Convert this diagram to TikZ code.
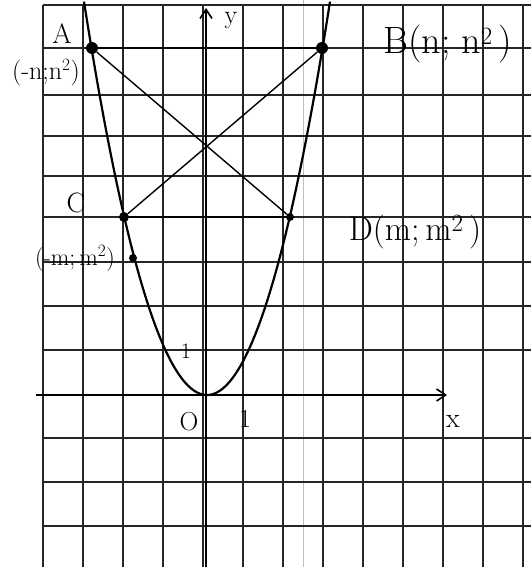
\documentclass[tikz,border=0pt]{standalone}
\usepackage{fontspec}
\usetikzlibrary{arrows.meta}
\begin{document}
\begin{tikzpicture}[x=1pt,y=-1pt,
  gridline/.style={line width=1.1pt, black!85},
  axisline/.style={line width=2.2pt, -{Straight Barb[length=9pt,width=12pt,line width=1.6pt]}},
  curveline/.style={line width=2.2pt},
  chord/.style={line width=1.4pt},
  bigdot/.style={circle, fill=black, inner sep=0pt, minimum size=#1},
  lab/.style={inner sep=0pt, font=\fontsize{#1}{#1}\selectfont}]
\useasboundingbox (0,0) rectangle (531,567);
\fill[white] (0,0) rectangle (531,567);
% paper fold
\draw[black!25, line width=1pt] (303,0) -- (303,567);
% grid
\foreach \x in {43,83,...,523} \draw[gridline] (\x,5) -- (\x,567);
\foreach \y in {5,48,95,136,176,217,262,306,350,438,482,526} \draw[gridline] (43,\y) -- (531,\y);
% axes
\coordinate (xs) at (36,395);
\coordinate (xe) at (447,395);
\coordinate (ys) at (206,567);
\coordinate (ye) at (206,8);
\draw[axisline] (xs) -- (xe);
\draw[axisline] (ys) -- (ye);
% parabola
\draw[curveline] plot[domain=-123:123, samples=100, smooth] ({207+\x},{395-0.026*\x*\x});
% points
\node[bigdot=12pt] (A) at (92,48) {};
\node[bigdot=12pt] (B) at (322,48) {};
\node[bigdot=10pt] (C) at (124,217) {};
\node[bigdot=8pt] (D) at (290,217) {};
\node[bigdot=8pt] (M) at (133,258) {};
% chords
\draw[chord] (A) -- (B);
\draw[chord] (C) -- (D);
\draw[chord] (A) -- (D);
\draw[chord] (B) -- (C);
% labels
\node[lab=28] (lA) at (62,34) {A};
\node[lab=26] (lAc) at (46,73) {(-n;n$^2$)};
\node[lab=38] (lB) at (448,44) {B(n;\;n$^2$\,)};
\node[lab=28] (lC) at (76,203) {C};
\node[lab=24] (lCc) at (75,258) {(-m;\,m$^2$)};
\node[lab=34] (lD) at (415,232) {D(m;\,m$^2$\,)};
\node[lab=26] (ly) at (231,21) {y};
\node[lab=28] (lx) at (453,421) {x};
\node[lab=26] (lO) at (189,422) {O};
\node[lab=26] (l1x) at (245,419) {1};
\node[lab=22] (l1y) at (186,351) {1};
\end{tikzpicture}
\end{document}
